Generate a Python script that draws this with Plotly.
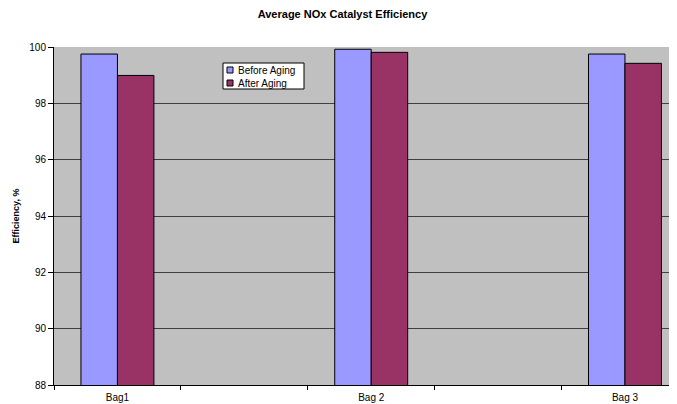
import plotly.graph_objects as go

# categories (blank slots keep Excel's spacing between bags)
categories = ['Bag1', ' ', 'Bag 2', '  ', 'Bag 3', '   ']
bags = ['Bag1', 'Bag 2', 'Bag 3']
series_names = ['Before Aging', 'After Aging']
before_aging = [99.75, 99.92, 99.75]
after_aging = [98.99, 99.81, 99.42]
colors = ['#9999FF', '#993366']

# page body adds an 8px margin, so the figure is a bit smaller than the window
W, H = 669, 396
L, R, T, B = 46, 0, 39, 19
pw, ph = W - L - R, H - T - B


def px_x(x):
    return (x - L) / pw


def px_y(y):
    return (H - B - y) / ph


fig = go.Figure()

for name, vals, col in zip(series_names, [before_aging, after_aging], colors):
    fig.add_trace(go.Bar(
        x=bags, y=vals, name=name,
        marker=dict(color=col, line=dict(color='black', width=1))
    ))

# hand-made legend, Excel style (compact)
fig.add_shape(type='rect', xref='paper', yref='paper',
              x0=px_x(215), x1=px_x(296), y0=px_y(81), y1=px_y(55),
              fillcolor='white', line=dict(color='black', width=1), layer='above')
for i, (name, col) in enumerate(zip(series_names, colors)):
    top = 59 + i * 13
    fig.add_shape(type='rect', xref='paper', yref='paper',
                  x0=px_x(219), x1=px_x(225), y0=px_y(top + 6), y1=px_y(top),
                  fillcolor=col, line=dict(color='black', width=1), layer='above')
    fig.add_annotation(text=name, xref='paper', yref='paper',
                       x=px_x(228), y=px_y(top + 3), xanchor='left', yanchor='middle',
                       showarrow=False, font=dict(size=10))

fig.update_layout(
    width=W, height=H,
    margin=dict(l=L, r=R, t=T, b=B),
    paper_bgcolor='white',
    plot_bgcolor='#C0C0C0',
    font=dict(family='Liberation Sans, Arial, sans-serif', size=10, color='black'),
    title=dict(text='<b>Average NOx Catalyst Efficiency</b>', x=0.5, xanchor='center',
               y=1 - 6 / H, yanchor='middle', font=dict(size=11)),
    barmode='group',
    bargap=0.425,
    bargroupgap=0,
    showlegend=False,
)

fig.update_xaxes(
    type='category', categoryorder='array', categoryarray=categories,
    range=[-0.5, 4.41],
    tickson='boundaries', ticks='outside', ticklen=4, tickcolor='black',
    showline=True, linecolor='black', linewidth=1,
    showgrid=False, tickfont=dict(size=10), ticklabelstandoff=3,
)
fig.update_yaxes(
    range=[88, 100], dtick=2, tick0=88,
    ticks='outside', ticklen=5, tickcolor='black',
    showline=True, linecolor='black', linewidth=1,
    showgrid=True, gridcolor='#404040', gridwidth=1,
    zeroline=False,
    title=dict(text='<b>Efficiency, %</b>', font=dict(size=9), standoff=8),
    tickfont=dict(size=10),
)

fig.write_html("out.html")
